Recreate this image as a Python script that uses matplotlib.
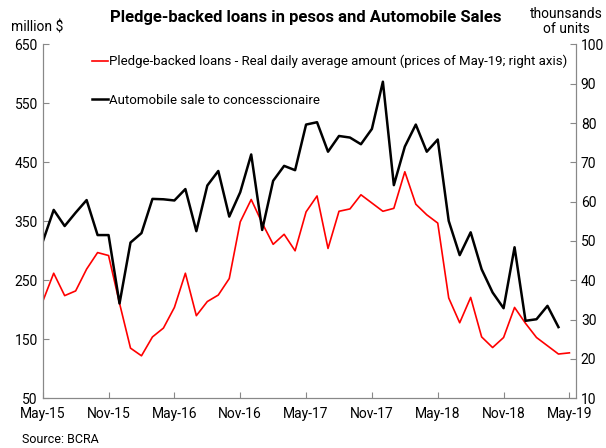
import numpy as np
import matplotlib.pyplot as plt

plt.rcParams['font.family'] = ['Roboto', 'DejaVu Sans']

# monthly, May-15 .. May-19
loans = [214, 262, 224, 232, 269, 297, 292, 211, 135, 122, 154, 169, 204,
         262, 190, 214, 225, 253, 349, 387, 347, 311, 328, 300, 366, 393,
         304, 367, 371, 395, 381, 367, 372, 434, 379, 361, 347, 220, 178,
         221, 154, 136, 153, 204, 177, 153, 139, 125, 127]
autos = [49.8, 57.9, 53.8, 57.2, 60.4, 51.5, 51.5, 34.1, 49.6, 52.0, 60.7,
         60.6, 60.3, 63.2, 52.5, 64.1, 67.8, 56.2, 62.4, 72.0, 52.8, 65.3,
         69.1, 68.0, 79.6, 80.2, 72.7, 76.7, 76.3, 74.6, 78.5, 90.5, 64.2,
         74.0, 79.6, 72.7, 75.8, 55.1, 46.4, 52.2, 42.8, 36.9, 32.9, 48.4,
         29.7, 30.1, 33.5, 28.1]
xlabels = ['May-15', 'Nov-15', 'May-16', 'Nov-16', 'May-17', 'Nov-17',
           'May-18', 'Nov-18', 'May-19']

fig = plt.figure(figsize=(6.06, 4.48), dpi=100)
ax = fig.add_axes([0.0705, 0.111, 0.880, 0.790])
ax2 = ax.twinx()

l1, = ax.plot(np.arange(len(loans)), loans, color='#ff0000', lw=1.2,
              label='Pledge-backed loans - Real daily average amount (prices of May-19; right axis)')
l2, = ax2.plot(np.arange(len(autos)), autos, color='black', lw=1.8,
               label='Automobile sale to concesscionaire')

ax.set_xlim(0, 48.6)
ax.set_ylim(50, 650)
ax.set_yticks(np.arange(50, 651, 100))
ax2.set_ylim(10, 100)
ax2.set_yticks(np.arange(10, 101, 10))
ax.set_xticks(np.arange(0, 49, 6))
ax.set_xticklabels(xlabels)

for a in (ax, ax2):
    a.tick_params(direction='in', labelsize=10, color='#888888', length=4)
    for s in a.spines.values():
        s.set_color('#888888')
ax.spines['top'].set_visible(False)
ax2.spines['top'].set_visible(False)
ax.tick_params(axis='x', pad=6)

ax.legend(handles=[l1, l2], loc='upper left', bbox_to_anchor=(0.083, 0.985),
          frameon=False, fontsize=9.5, handlelength=1.2, handletextpad=0.1,
          labelspacing=1.95, borderaxespad=0)

fig.text(0.505, 0.962, 'Pledge-backed loans in pesos and Automobile Sales',
         ha='center', va='center', fontsize=12, fontweight='bold')
fig.text(0.062, 0.938, 'million $', ha='center', va='center', fontsize=10)
fig.text(0.935, 0.952, 'thounsands\nof units', ha='center', va='center',
         fontsize=10, linespacing=1.1)
fig.text(0.036, 0.02, 'Source: BCRA', ha='left', va='center', fontsize=9)

fig.savefig('out.png', dpi=100)
